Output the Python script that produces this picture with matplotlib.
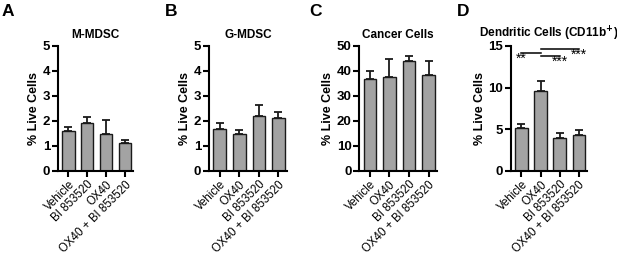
import matplotlib
matplotlib.use("Agg")
import matplotlib.pyplot as plt

plt.rcParams['font.family'] = ['Liberation Sans', 'DejaVu Sans']

# data
labels_a = ['Vehicle', 'BI 853520', 'OX40', 'OX40 + BI 853520']
labels_bcd = ['Vehicle', 'OX40', 'BI 853520', 'OX40 + BI 853520']

mmdsc = [1.60, 1.91, 1.49, 1.12]
mmdsc_err = [0.16, 0.23, 0.55, 0.12]
gmdsc = [1.66, 1.46, 2.19, 2.10]
gmdsc_err = [0.25, 0.19, 0.43, 0.24]
cancer = [36.8, 37.4, 43.9, 38.2]
cancer_err = [3.2, 7.3, 2.2, 5.7]
dendritic = [5.2, 9.6, 3.95, 4.3]
dendritic_err = [0.38, 1.15, 0.55, 0.58]

# significance bars for panel D: (from, to, height, text, text height, text x)
sig = [(0, 1, 14.15, '**', 13.5, 0),
       (1, 3, 14.6, '***', 13.95, 3),
       (1, 2, 13.75, '***', 13.1, 2)]

panels = [
    ('A', 'M-MDSC', labels_a, mmdsc, mmdsc_err, 5, [0, 1, 2, 3, 4, 5], [0.094, 0.1216], 0.003),
    ('B', 'G-MDSC', labels_bcd, gmdsc, gmdsc_err, 5, [0, 1, 2, 3, 4, 5], [0.3387, 0.126], 0.267),
    ('C', 'Cancer Cells', labels_bcd, cancer, cancer_err, 50, [0, 10, 20, 30, 40, 50], [0.582, 0.126], 0.502),
    ('D', r'Dendritic Cells (CD11b$^{\mathbf{+}}$)', labels_bcd, dendritic, dendritic_err, 15, [0, 5, 10, 15], [0.828, 0.123], 0.741),
]

fig = plt.figure(figsize=(6.17, 2.54), dpi=100)

for letter, title, labels, vals, errs, ymax, yticks, (left, width), lx in panels:
    ax = fig.add_axes([left, 0.327, width, 0.492])
    x = range(len(vals))
    ax.bar(x, vals, width=0.65, color='#a3a3a3', edgecolor='#1a1a1a', linewidth=1.0,
           yerr=[[0] * len(errs), errs], capsize=2.7,
           error_kw=dict(elinewidth=1.3, capthick=1.3, ecolor='#1a1a1a'))
    ax.set_xlim(-0.55, 3.42)
    ax.set_ylim(0, ymax)
    ax.set_yticks(yticks)
    ax.set_xticks(list(x))
    ax.set_xticklabels(labels, rotation=45, ha='right', rotation_mode='anchor', fontsize=8.3)
    for t in ax.get_yticklabels():
        t.set_fontweight('bold')
        t.set_fontsize(9.5)
    ax.spines['top'].set_visible(False)
    ax.spines['right'].set_visible(False)
    ax.spines['left'].set_linewidth(1.5)
    ax.spines['bottom'].set_linewidth(1.5)
    ax.tick_params(axis='both', width=1.5, length=4, pad=1.5)
    ax.set_ylabel('% Live Cells', fontsize=9, fontweight='bold', labelpad=2)
    ax.set_title(title, fontsize=8.5, fontweight='bold', pad=6)
    fig.text(lx, 0.985, letter, fontsize=12.5, fontweight='bold', va='top')

    if letter == 'D':
        for x0, x1, h, txt, th, tx in sig:
            ax.plot([x0, x1], [h, h], color='black', linewidth=1.1, clip_on=False)
            ax.text(tx, th, txt, ha='center', va='center', fontsize=10)

fig.savefig('out.png', dpi=100)
